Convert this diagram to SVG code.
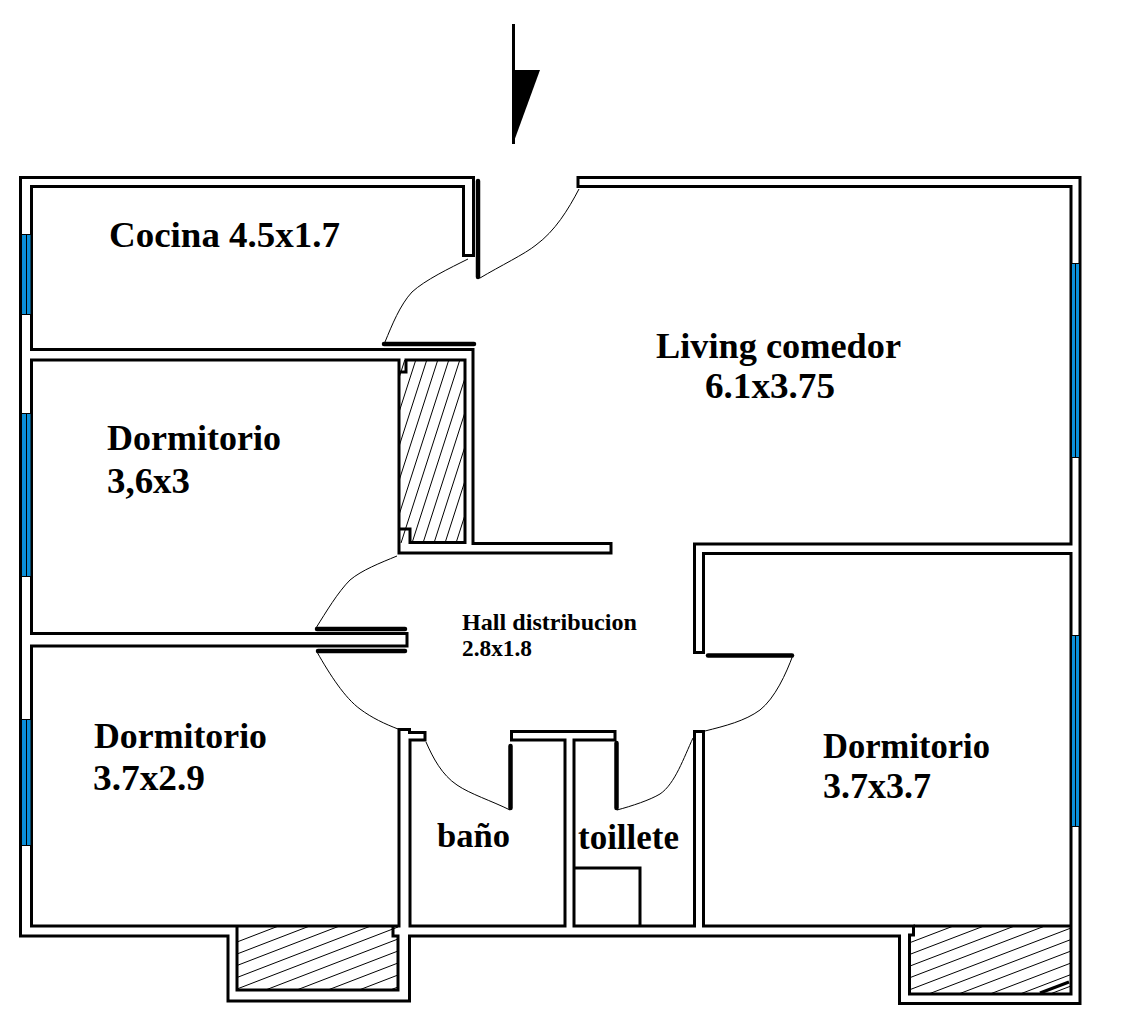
<svg xmlns="http://www.w3.org/2000/svg" width="1130" height="1036" viewBox="0 0 1130 1036">
<style>
.w{fill:none;stroke:#000;stroke-width:3}
.l{fill:none;stroke:#000;stroke-width:4.5;stroke-linecap:round}
.a{fill:none;stroke:#000;stroke-width:1}
.g{fill:#0b8fd8;stroke:#000;stroke-width:1}
.t{font-family:"Liberation Serif","Times New Roman",serif;font-weight:bold;fill:#000}
.h{stroke:#000;stroke-width:1;fill:none}
</style>
<defs>
<clipPath id="c1"><rect x="399" y="360" width="66" height="183"/></clipPath>
<clipPath id="c2"><rect x="237" y="926" width="161" height="64"/></clipPath>
<clipPath id="c3"><rect x="909" y="926" width="162" height="68"/></clipPath>
</defs>
<rect width="1130" height="1036" fill="#fff"/>
<g id="hatching">
<path class="h" clip-path="url(#c1)" d="M408 350L346 543M419 350L357 543M430 350L368 543M441 350L379 543M452 350L390 543M463 350L401 543M474 350L412 543M485 350L423 543M496 350L434 543M507 350L445 543M518 350L456 543M529 350L467 543"/>
<path class="h" clip-path="url(#c2)" d="M237 942L398 880M237 954L398 892M237 965.500L398 903.500M237 977.500L398 915.500M237 989L398 927M237 1001L398 939M237 1013L398 951M237 1025L398 963M237 1037L398 975M237 1049L398 987"/>
<path class="h" clip-path="url(#c3)" d="M909 943L1071 881M909 954.700L1071 892.700M909 966.400L1071 904.400M909 978L1071 916M909 990L1071 928M909 1001.500L1071 939.500M909 1013L1071 951M909 1025L1071 963M909 1036.500L1071 974.500M909 1048L1071 986M909 1060L1071 998"/>
</g>
<g id="walls">
<path class="w" d="M473.500 177.500H20.500V936H228V1001H409.500V936H899.500V1003.500H1080V177.500H578V186.500H1071V544H694.500V652.500H703.500V553.500H1071V994H909.500V935H913.500V926H703.500V731.500H694.500V926H574V740H615V731.500H511.500V740H565V926H410V740H425V732.500H409.500V729.500H399V926H31.500V646H407V633.500H31.500V360H399V553H611V543.500H473V349.500H31.500V186.500H463.500V255.500H473.500Z"/>
<path class="w" d="M399 372H406V360H465V542.500H410V529H399"/>
<path class="w" d="M237 926V990H398V936H393V926"/>
<path class="w" d="M913.500 926H1071"/>
<path class="w" d="M574 868H640V926"/>
<path d="M1040 993L1069 982" fill="none" stroke="#000" stroke-width="3"/>
</g>
<g id="windows">
<rect class="g" x="21.500" y="234.500" width="9.500" height="80"/><line class="h" x1="26.500" y1="234" x2="26.500" y2="314"/>
<rect class="g" x="21.500" y="413.500" width="9.500" height="163"/><line class="h" x1="26.500" y1="413" x2="26.500" y2="576"/>
<rect class="g" x="21.500" y="719.500" width="9.500" height="126"/><line class="h" x1="26.500" y1="719" x2="26.500" y2="845"/>
<rect class="g" x="1071.500" y="263.500" width="8" height="194"/><line class="h" x1="1075.500" y1="263" x2="1075.500" y2="457"/>
<rect class="g" x="1071.500" y="635.500" width="8" height="191"/><line class="h" x1="1075.500" y1="635" x2="1075.500" y2="826"/>
</g>
<g id="doors">
<line class="l" x1="478" y1="181" x2="478" y2="277"/>
<line class="l" x1="384" y1="344" x2="474" y2="344"/>
<line class="l" x1="317" y1="629" x2="405" y2="629"/>
<line class="l" x1="318" y1="651" x2="405" y2="651"/>
<line class="l" x1="510.500" y1="746" x2="510.500" y2="808"/>
<line class="l" x1="616.500" y1="743" x2="616.500" y2="808"/>
<line class="l" x1="708" y1="655.500" x2="792" y2="655.500"/>
<path class="a" d="M480 278C500 266 525 254 536 245C555 231 568 210 579 189"/>
<path class="a" d="M468 259C450 268 425 280 412 292C400 305 392 325 385 342"/>
<path class="a" d="M397 556C380 563 362 570 350 580C338 592 326 612 316 628"/>
<path class="a" d="M317 652C330 675 345 698 360 709C372 718 385 724 398 729"/>
<path class="a" d="M426 742C433 758 442 775 457 785C470 794 492 801 510 810"/>
<path class="a" d="M617 810C632 806 650 800 660 794C675 784 684 757 693 738"/>
<path class="a" d="M705 731C725 726 745 721 760 710C775 698 786 674 793 655"/>
</g>
<g id="north-arrow">
<line x1="513.500" y1="24" x2="513.500" y2="144" stroke="#000" stroke-width="3"/>
<polygon points="513,70 540,70 513,144" fill="#000"/>
</g>
<g id="labels">
<text class="t" x="109" y="247" font-size="36" textLength="231" lengthAdjust="spacingAndGlyphs">Cocina 4.5x1.7</text>
<text class="t" x="656" y="358" font-size="36" textLength="245" lengthAdjust="spacingAndGlyphs">Living comedor</text>
<text class="t" x="705" y="398" font-size="36" textLength="130" lengthAdjust="spacingAndGlyphs">6.1x3.75</text>
<text class="t" x="107" y="450" font-size="36" textLength="174" lengthAdjust="spacingAndGlyphs">Dormitorio</text>
<text class="t" x="107" y="493" font-size="36" textLength="83" lengthAdjust="spacingAndGlyphs">3,6x3</text>
<text class="t" x="462" y="630" font-size="23" textLength="175" lengthAdjust="spacingAndGlyphs">Hall distribucion</text>
<text class="t" x="462" y="656" font-size="23" textLength="70" lengthAdjust="spacingAndGlyphs">2.8x1.8</text>
<text class="t" x="94" y="748" font-size="36" textLength="173" lengthAdjust="spacingAndGlyphs">Dormitorio</text>
<text class="t" x="93" y="790" font-size="36" textLength="112" lengthAdjust="spacingAndGlyphs">3.7x2.9</text>
<text class="t" x="823" y="758" font-size="36" textLength="167" lengthAdjust="spacingAndGlyphs">Dormitorio</text>
<text class="t" x="823" y="798" font-size="36" textLength="108" lengthAdjust="spacingAndGlyphs">3.7x3.7</text>
<text class="t" x="437" y="847" font-size="34" textLength="73" lengthAdjust="spacingAndGlyphs">baño</text>
<text class="t" x="578" y="849" font-size="35" textLength="101" lengthAdjust="spacingAndGlyphs">toillete</text>
</g>
</svg>
